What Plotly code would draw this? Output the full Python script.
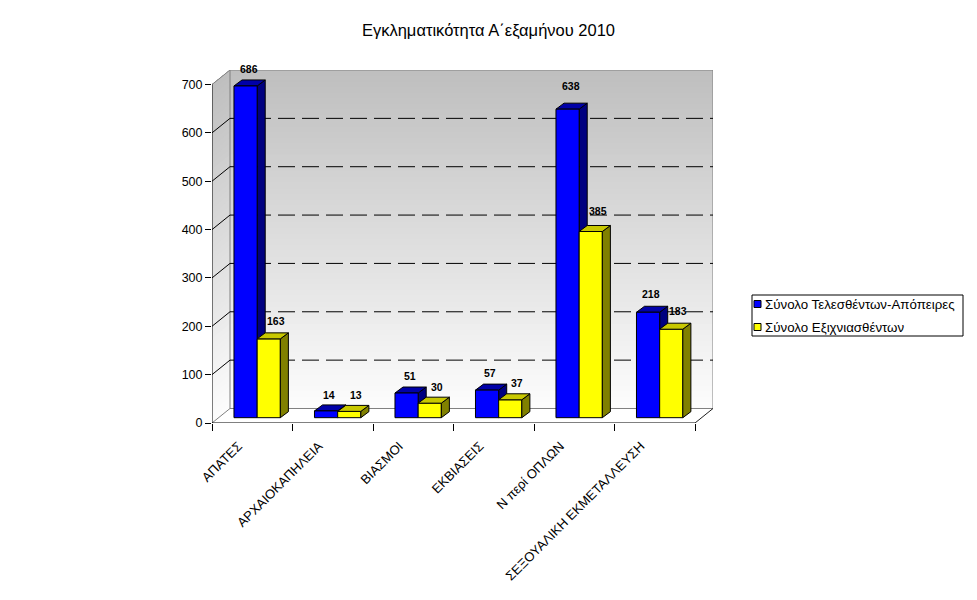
import plotly.graph_objects as go

# ---------------- data ----------------
categories = ["ΑΠΑΤΕΣ", "ΑΡΧΑΙΟΚΑΠΗΛΕΙΑ", "ΒΙΑΣΜΟΙ", "ΕΚΒΙΑΣΕΙΣ",
              "Ν περί ΟΠΛΩΝ", "ΣΕΞΟΥΑΛΙΚΗ ΕΚΜΕΤΑΛΛΕΥΣΗ"]
committed = [686, 14, 51, 57, 638, 218]
solved = [163, 13, 30, 37, 385, 183]
series_names = ["Σύνολο Τελεσθέντων-Απόπειρες", "Σύνολο Εξιχνιασθέντων"]
y_ticks = [0, 100, 200, 300, 400, 500, 600, 700]
title_text = "Εγκληματικότητα Α΄εξαμήνου 2010"

# ---------------- geometry / style ----------------
FONT = "Liberation Sans, Arial, sans-serif"
W, H = 977, 600
ML, MR, MT, MB = 212, 264, 70, 177
N = len(categories)
YMAX = y_ticks[-1]
DX, DY = 0.2236, 30          # wall depth (x units, y units)
BASE = 11                    # bar base (depth projection)
G0, BW = 0.273, 0.288        # group start offset, bar width
BDX, BDY = 0.10, 12.4        # bar depth
series_colors = [
    dict(front="#0000ff", top="#0000a8", side="#000080"),
    dict(front="#ffff00", top="#c8c800", side="#808000"),
]
label_xshift = [3, 7]

PLOT_H = H - MT - MB
PX_PER_Y = PLOT_H / (YMAX + DY)

def px2paper(px, py):
    return (px - ML) / (W - ML - MR), (H - MB - py) / PLOT_H

shapes = []

# gradient walls (side + back) drawn as nested stripes
NSTRIPE = 60
def lerp(a, b, t):
    return int(round(a + (b - a) * t))
for j in range(NSTRIPE):
    v = YMAX * j / NSTRIPE
    t = j / (NSTRIPE - 1)
    g = lerp(252, 191, t)
    col = f"rgb({g},{g},{g})"
    path = (f"M 0,{v} L {DX},{v+DY} L {N+DX},{v+DY} L {N+DX},{YMAX+DY} "
            f"L {DX},{YMAX+DY} L 0,{YMAX} Z")
    shapes.append(dict(type="path", path=path, xref="x", yref="y",
                       fillcolor=col, line=dict(width=0), layer="below"))

# floor
shapes.append(dict(type="path", xref="x", yref="y", layer="below",
                   path=f"M 0,0 L {N},0 L {N+DX},{DY} L {DX},{DY} Z",
                   fillcolor="white", line=dict(width=0)))

GRAY = "#808080"
def seg(x0, y0, x1, y1, color, dash=None, width=1):
    ln = dict(color=color, width=width)
    if dash:
        ln["dash"] = dash
    shapes.append(dict(type="line", xref="x", yref="y", x0=x0, y0=y0,
                       x1=x1, y1=y1, line=ln, layer="below"))

# wall borders
seg(DX, DY, N + DX, DY, GRAY)
seg(DX, YMAX + DY, N + DX, YMAX + DY, GRAY)
seg(DX, DY, DX, YMAX + DY, GRAY)
seg(N + DX, DY, N + DX, YMAX + DY, GRAY)
seg(0, YMAX, DX, YMAX + DY, GRAY)
seg(0, 0, DX, DY, GRAY)
seg(N, 0, N + DX, DY, "#202020")

# gridlines on back wall and side-wall diagonals
for v in y_ticks[1:-1]:
    seg(DX, v + DY, N + DX, v + DY, "black", dash="17px,7px")
    seg(0, v, DX, v + DY, "black")

# axis lines
seg(0, 0, 0, YMAX, "black")
seg(0, 0, N, 0, "black")

# 3D faces of the bars
def faces(x0, v, c, layer):
    x1 = x0 + BW
    top = BASE + v
    shapes.append(dict(type="path", xref="x", yref="y", layer=layer,
                       path=f"M {x1},{BASE} L {x1+BDX},{BASE+BDY} L {x1+BDX},{top+BDY} L {x1},{top} Z",
                       fillcolor=c["side"], line=dict(color="black", width=1)))
    shapes.append(dict(type="path", xref="x", yref="y", layer=layer,
                       path=f"M {x0},{top} L {x1},{top} L {x1+BDX},{top+BDY} L {x0+BDX},{top+BDY} Z",
                       fillcolor=c["top"], line=dict(color="black", width=1)))

annotations = []
fig = go.Figure()
for s, vals in enumerate([committed, solved]):
    xs = [i + G0 + BW * s + BW / 2 for i in range(N)]
    fig.add_trace(go.Bar(
        x=xs, y=vals, base=BASE, width=BW, name=series_names[s], showlegend=False,
        marker=dict(color=series_colors[s]["front"], line=dict(color="black", width=1)),
        hoverinfo="skip"))
    for i, v in enumerate(vals):
        faces(i + G0 + BW * s, v, series_colors[s], "below" if s == 0 else "above")
        ytop = BASE + v + BDY
        # label offset grows with height, but stays inside the chart top
        room = (YMAX + DY - ytop) * PX_PER_Y + 1
        shift = min(10 + 0.012 * v, room)
        annotations.append(dict(
            x=xs[i], y=ytop, xref="x", yref="y", text=str(v),
            showarrow=False, yanchor="middle", yshift=shift, xshift=label_xshift[s],
            font=dict(family=FONT, size=10.5, color="black", weight="bold")))

# custom legend (box, swatches, text)
lx0, lx1 = px2paper(752, 0)[0], px2paper(963, 0)[0]
ly0, ly1 = px2paper(0, 336)[1], px2paper(0, 295)[1]
shapes.append(dict(type="rect", xref="paper", yref="paper", x0=lx0, x1=lx1,
                   y0=ly0, y1=ly1, fillcolor="white", line=dict(color="black", width=1),
                   layer="above"))
for s, name in enumerate(series_names):
    cy = 304 + 23 * s
    sx0, sy0 = px2paper(754, cy + 3.5)
    sx1, sy1 = px2paper(761, cy - 3.5)
    shapes.append(dict(type="rect", xref="paper", yref="paper", x0=sx0, x1=sx1,
                       y0=sy0, y1=sy1, fillcolor=series_colors[s]["front"],
                       line=dict(color="black", width=1), layer="above"))
    tx, ty = px2paper(763, cy)
    annotations.append(dict(x=tx, y=ty, xref="paper", yref="paper", text=name,
                            showarrow=False, xanchor="left", yanchor="middle",
                            font=dict(family=FONT, size=13.3, color="black")))

# helper trace for boundary tick axis
fig.add_trace(go.Scatter(x=[], y=[], xaxis="x2", showlegend=False, hoverinfo="skip"))

fig.update_layout(
    width=W, height=H,
    margin=dict(l=ML, r=MR, t=MT, b=MB),
    paper_bgcolor="white", plot_bgcolor="white",
    barmode="overlay", showlegend=False,
    font=dict(family=FONT, size=12, color="black"),
    title=dict(text=title_text, x=0.5, xref="container", y=1 - 30 / 600,
               yref="container", xanchor="center", yanchor="middle",
               font=dict(family=FONT, size=16.5, color="black")),
    xaxis=dict(range=[0, N + DX], tickvals=[i + 0.5 for i in range(N)],
               ticktext=categories, tickangle=-45, ticks="", showgrid=False,
               zeroline=False, showline=False, tickfont=dict(size=13),
               ticklabelshift=-14, ticklabelstandoff=12),
    xaxis2=dict(range=[0, N + DX], overlaying="x", anchor="y", side="bottom",
                tickvals=list(range(N + 1)), ticks="outside", ticklen=7,
                tickcolor="black", showticklabels=False, showgrid=False,
                zeroline=False, showline=False),
    yaxis=dict(range=[0, YMAX + DY], tickvals=y_ticks, ticks="outside", ticklen=6,
               tickcolor="black", showgrid=False, zeroline=False, showline=False,
               tickfont=dict(size=12.5)),
    shapes=shapes,
    annotations=annotations,
)

fig.write_html("out.html")
